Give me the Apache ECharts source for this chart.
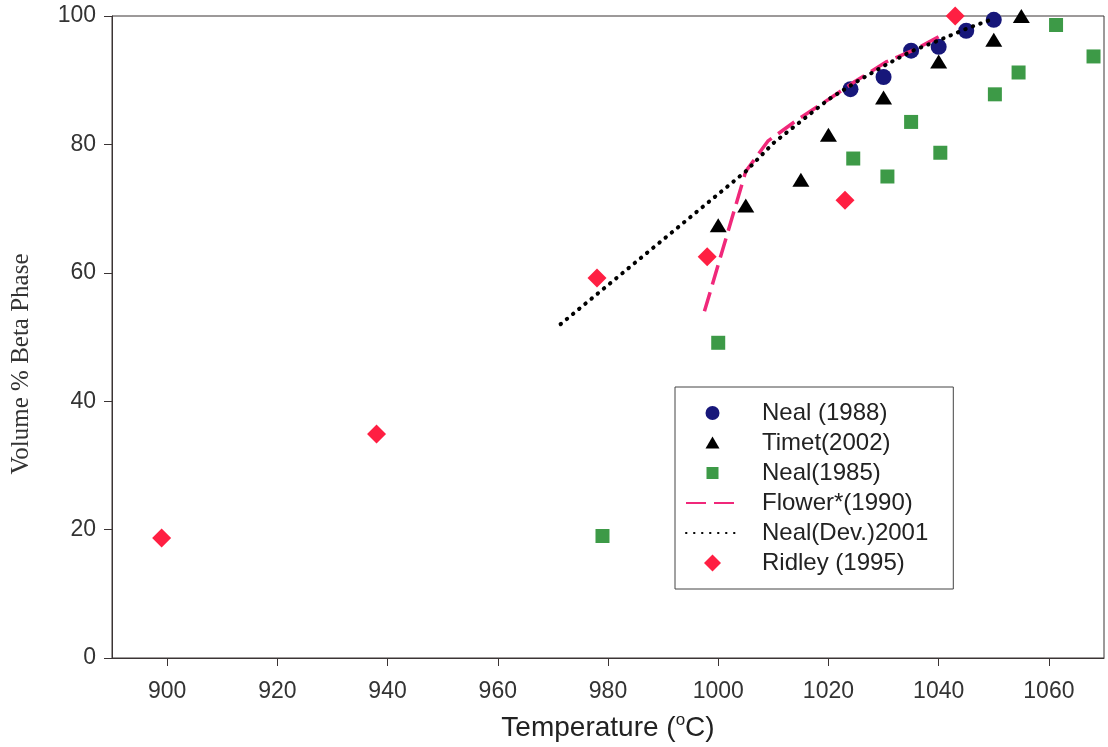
<!DOCTYPE html>
<html>
<head>
<meta charset="utf-8">
<title>Volume % Beta Phase</title>
<script src="https://cdn.jsdelivr.net/npm/echarts@6/dist/echarts.min.js"></script>
<style>
    html, body { margin: 0; padding: 0; background: #fff; }
    #main { width: 1108px; height: 747px; }
</style>
</head>
<body>
<div id="main"></div>
<script>
// data (temperature in C, volume % beta)
var nealX1988 = [1024, 1030, 1035, 1040, 1045, 1050];
var nealY1988 = [88.6, 90.5, 94.6, 95.2, 97.7, 99.4];

var timetX = [1000, 1005, 1015, 1020, 1030, 1040, 1050, 1055];
var timetY = [67.4, 70.5, 74.5, 81.5, 87.3, 92.9, 96.3, 100];

var neal1985X = [979, 1000, 1024.5, 1030.7, 1035, 1040.3, 1050.2, 1054.5, 1061.3, 1068.1];
var neal1985Y = [19.0, 49.1, 77.8, 75.0, 83.5, 78.7, 87.8, 91.2, 98.6, 93.7];

var flowerX = [997.5, 1005, 1009, 1014.3, 1020, 1024.8, 1030.6, 1036, 1041.1];
var flowerY = [54, 75.8, 80.5, 83.8, 87, 89.8, 92.9, 94.9, 97.3];

var nealDevX = [971.4, 1005, 1010, 1015, 1020, 1025, 1030, 1035, 1040, 1045, 1050];
var nealDevY = [52, 75.8, 80.2, 83.6, 87.0, 89.7, 92.2, 94.5, 96.2, 98.0, 99.6];

var ridleyX = [899, 938, 978, 998, 1023, 1043];
var ridleyY = [18.7, 34.9, 59.2, 62.5, 71.3, 100];

var xTicks = [900, 920, 940, 960, 980, 1000, 1020, 1040, 1060];

function pairs(xs, ys) {
    var out = [];
    for (var i = 0; i < xs.length; i++) {
        out.push([xs[i], ys[i]]);
    }
    return out;
}

var myChart = echarts.init(document.getElementById('main'));
var axisColor = '#3b3434';
var sans = '"Liberation Sans", Arial, sans-serif';
var noFill = 'rgba(0,0,0,0)';

// legend icons as paths in a 17x17 box so each keeps its own size
var legendItems = [
    { name: 'Neal (1988)', icon: 'path://M0,0 M1.5,8.5 A7,7 0 1,1 15.5,8.5 A7,7 0 1,1 1.5,8.5 Z M17,17' },
    { name: 'Timet(2002)', icon: 'path://M0,0 M1.5,14 L8.5,2 L15.5,14 Z M17,17' },
    { name: 'Neal(1985)', icon: 'path://M0,0 M2.5,2.5 L14.5,2.5 L14.5,14.5 L2.5,14.5 Z M17,17' },
    { name: 'Flower*(1990)' },
    { name: 'Neal(Dev.)2001' },
    { name: 'Ridley (1995)', icon: 'path://M8.5,0 L17,8.5 L8.5,17 L0,8.5 Z' }
];

var option = {
    backgroundColor: '#fff',
    animation: false,
    grid: {
        left: 112,
        right: 4,
        top: 16,
        bottom: 89,
        show: true,
        borderColor: axisColor,
        borderWidth: 1
    },
    legend: {
        data: legendItems,
        orient: 'vertical',
        left: 675,
        top: 387,
        itemWidth: 53,
        itemHeight: 17,
        itemGap: 6,
        symbolKeepAspect: true,
        padding: [14, 25, 14, 10],
        borderColor: '#444',
        borderWidth: 1,
        backgroundColor: '#fff',
        textStyle: {
            fontFamily: sans,
            fontSize: 24,
            color: '#222',
            padding: [0, 0, 0, 18]
        }
    },
    xAxis: {
        type: 'value',
        min: 890,
        max: 1070,
        name: '{t|Temperature (}{sup|o}{t|C)}',
        nameLocation: 'middle',
        nameGap: 54,
        nameTextStyle: {
            fontFamily: sans,
            fontSize: 28,
            color: '#222',
            rich: {
                t: { fontFamily: sans, fontSize: 28, color: '#222', lineHeight: 30, verticalAlign: 'bottom' },
                sup: { fontFamily: sans, fontSize: 17, color: '#222', lineHeight: 14, verticalAlign: 'top' }
            }
        },
        axisLine: { show: true, lineStyle: { color: axisColor, width: 1 } },
        axisTick: { show: true, length: 8, customValues: xTicks, lineStyle: { color: axisColor } },
        axisLabel: {
            customValues: xTicks,
            margin: 22,
            fontFamily: sans,
            fontSize: 23,
            color: '#333',
            formatter: function (value) {
                return String(value);
            }
        },
        splitLine: { show: false }
    },
    yAxis: {
        type: 'value',
        min: 0,
        max: 100,
        interval: 20,
        name: 'Volume % Beta Phase',
        nameLocation: 'middle',
        nameGap: 78,
        nameTextStyle: {
            fontFamily: '"Liberation Serif", "Times New Roman", serif',
            fontSize: 25,
            color: '#333',
            padding: [0, 54, 0, 0]
        },
        axisLine: { show: true, lineStyle: { color: axisColor, width: 1 } },
        axisTick: { show: true, length: 8, lineStyle: { color: axisColor } },
        axisLabel: { margin: 16, fontFamily: sans, fontSize: 23, color: '#333' },
        splitLine: { show: false }
    },
    series: [
        {
            name: 'Neal (1988)',
            type: 'scatter',
            symbol: 'circle',
            symbolSize: 16,
            clip: false,
            z: 2,
            itemStyle: { color: '#17177a', opacity: 1 },
            data: pairs(nealX1988, nealY1988)
        },
        {
            name: 'Timet(2002)',
            type: 'scatter',
            symbol: 'triangle',
            symbolSize: [17, 14],
            clip: false,
            z: 2,
            itemStyle: { color: '#000', opacity: 1 },
            data: pairs(timetX, timetY)
        },
        {
            name: 'Neal(1985)',
            type: 'scatter',
            symbol: 'rect',
            symbolSize: 14,
            clip: false,
            z: 2,
            itemStyle: { color: '#3d9a47', opacity: 1 },
            data: pairs(neal1985X, neal1985Y)
        },
        {
            name: 'Flower*(1990)',
            type: 'line',
            symbol: 'none',
            smooth: false,
            z: 4,
            lineStyle: { color: '#f0287a', width: 3.5, type: [20, 8] },
            itemStyle: { color: noFill },
            data: pairs(flowerX, flowerY)
        },
        {
            name: 'Neal(Dev.)2001',
            type: 'line',
            symbol: 'none',
            smooth: false,
            z: 5,
            lineStyle: { color: '#000', width: 4, type: [0.5, 7.5], cap: 'round' },
            itemStyle: { color: noFill },
            data: pairs(nealDevX, nealDevY)
        },
        {
            name: 'Ridley (1995)',
            type: 'scatter',
            symbol: 'diamond',
            symbolSize: 19,
            clip: false,
            z: 3,
            itemStyle: { color: '#ff1f42', opacity: 1 },
            data: pairs(ridleyX, ridleyY)
        }
    ]
};
myChart.setOption(option);
</script>
</body>
</html>
